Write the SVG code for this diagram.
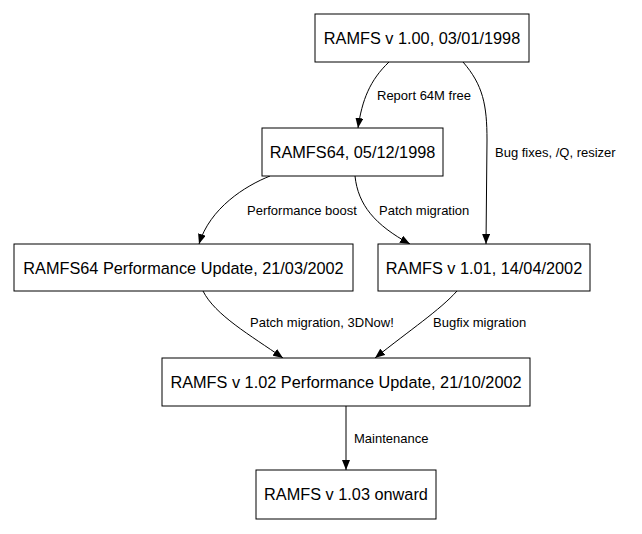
<svg xmlns="http://www.w3.org/2000/svg" width="642" height="534" viewBox="0 0 642 534">
<style>
.node rect{fill:#fff;stroke:#000;stroke-width:1}
.node text{font-family:"Liberation Sans",Arial,sans-serif;font-size:16.3px;text-anchor:middle;fill:#000}
.edge path{fill:none;stroke:#000;stroke-width:1}
.lbl{font-family:"Liberation Sans",Arial,sans-serif;font-size:13px;fill:#000}
</style>
<defs>
<marker id="ah" markerUnits="userSpaceOnUse" markerWidth="10" markerHeight="8" refX="10" refY="4" orient="auto">
<path d="M0,0 L10,4 L0,8 z" fill="#000"/>
</marker>
</defs>
<rect width="642" height="534" fill="#fff"/>
<g id="edges" class="edge">
<path d="M389,62 C370,80 362,100 358,128" marker-end="url(#ah)"/>
<path d="M463,62 C483,85 487,105 487,140 L486,244" marker-end="url(#ah)"/>
<path d="M270,176 C245,186 210,208 199,244" marker-end="url(#ah)"/>
<path d="M355,176 C358,205 375,225 410,244" marker-end="url(#ah)"/>
<path d="M203,291 C215,315 250,335 283,358" marker-end="url(#ah)"/>
<path d="M457,291 C440,310 410,330 375,358" marker-end="url(#ah)"/>
<path d="M346,406 L346,470" marker-end="url(#ah)"/>
<text class="lbl" x="377" y="100">Report 64M free</text>
<text class="lbl" x="495" y="157">Bug fixes, /Q, resizer</text>
<text class="lbl" x="247" y="215">Performance boost</text>
<text class="lbl" x="379" y="215">Patch migration</text>
<text class="lbl" x="250" y="327">Patch migration, 3DNow!</text>
<text class="lbl" x="433" y="327">Bugfix migration</text>
<text class="lbl" x="354" y="443">Maintenance</text>
</g>
<g id="n1" class="node"><rect x="315" y="14" width="214" height="48"/><text x="422" y="44">RAMFS v 1.00, 03/01/1998</text></g>
<g id="n2" class="node"><rect x="262" y="128" width="181" height="48"/><text x="352.5" y="158">RAMFS64, 05/12/1998</text></g>
<g id="n3" class="node"><rect x="14" y="244" width="339" height="47"/><text x="183.5" y="273.5">RAMFS64 Performance Update, 21/03/2002</text></g>
<g id="n4" class="node"><rect x="378" y="244" width="212" height="47"/><text x="484" y="273.5">RAMFS v 1.01, 14/04/2002</text></g>
<g id="n5" class="node"><rect x="162" y="358" width="368" height="48"/><text x="346" y="388">RAMFS v 1.02 Performance Update, 21/10/2002</text></g>
<g id="n6" class="node"><rect x="256" y="470" width="180" height="49"/><text x="346" y="500">RAMFS v 1.03 onward</text></g>
</svg>
